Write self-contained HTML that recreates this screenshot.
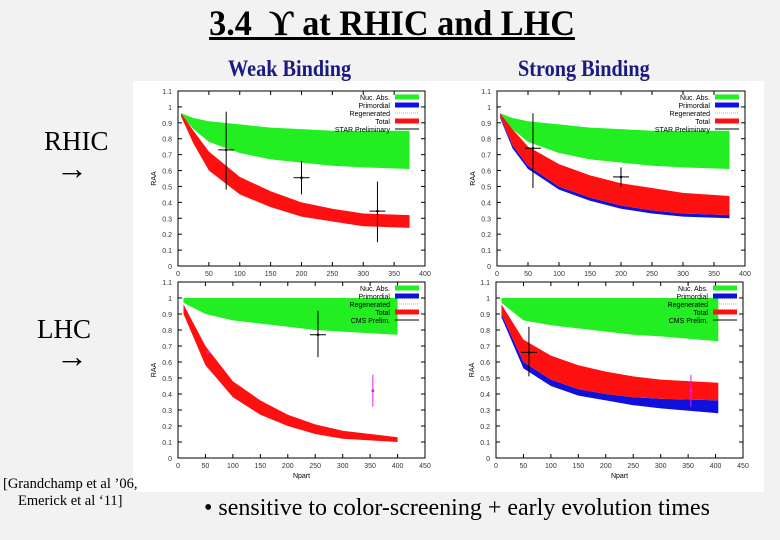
<!DOCTYPE html>
<html><head><meta charset="utf-8"><style>
body{margin:0;width:780px;height:540px;background:#f2f2f2;overflow:hidden;position:relative;font-family:"Liberation Serif",serif}
.t{position:absolute;white-space:nowrap;z-index:2}
</style></head><body>
<div class="t" style="left:152px;top:2px;width:480px;font-size:36px;font-weight:bold;text-decoration:underline;text-align:center;transform:scaleX(0.95);transform-origin:center">3.4 &nbsp;ϒ at RHIC and LHC</div>
<div class="t" style="left:228px;top:56px;font-size:23px;font-weight:bold;color:#1a1a80;transform:scaleX(0.88);transform-origin:left">Weak Binding</div>
<div class="t" style="left:518px;top:56px;font-size:23px;font-weight:bold;color:#1a1a80;transform:scaleX(0.88);transform-origin:left">Strong Binding</div>
<div class="t" style="left:44px;top:126px;font-size:27px">RHIC</div>
<div class="t" style="left:56px;top:150px;font-size:32px">→</div>
<div class="t" style="left:37px;top:314px;font-size:27px">LHC</div>
<div class="t" style="left:56px;top:338px;font-size:32px">→</div>
<div class="t" style="left:3px;top:476px;font-size:14.5px;line-height:17px;text-align:center">[Grandchamp et al ’06,<br>Emerick et al ‘11]</div>
<div class="t" style="left:204px;top:495px;font-size:24px">• sensitive to color-screening + early evolution times</div>
<svg id="svg" width="780" height="540" style="position:absolute;left:0;top:0;z-index:1">
<rect x="133" y="81" width="631" height="411" fill="#fff"/>
</svg>
<script>
const NS="http://www.w3.org/2000/svg";
const svg=document.getElementById('svg');
// Panel 1: RHIC weak
const p1N=[5,25,50,100,150,200,250,300,375];
const p1GreenHi=[0.96,0.93,0.91,0.89,0.87,0.86,0.85,0.85,0.85];
const p1GreenLo=[0.95,0.86,0.78,0.71,0.67,0.65,0.63,0.62,0.61];
const p1RedHi=[0.96,0.85,0.72,0.56,0.47,0.40,0.36,0.33,0.32];
const p1RedLo=[0.94,0.77,0.60,0.45,0.37,0.31,0.28,0.25,0.24];
const p1PtX=[78,200,323];const p1PtY=[0.73,0.555,0.345];const p1PtHi=[0.97,0.66,0.53];const p1PtLo=[0.48,0.45,0.15];
// Panel 2: RHIC strong
const p2N=[5,25,50,100,150,200,250,300,375];
const p2GreenHi=[0.96,0.93,0.91,0.89,0.87,0.86,0.85,0.85,0.85];
const p2GreenLo=[0.95,0.86,0.78,0.71,0.67,0.65,0.63,0.62,0.61];
const p2RedHi=[0.96,0.86,0.75,0.64,0.57,0.52,0.49,0.46,0.44];
const p2RedLo=[0.94,0.76,0.63,0.50,0.43,0.38,0.35,0.33,0.32];
const p2BlueLo=[0.93,0.74,0.61,0.48,0.41,0.36,0.33,0.31,0.30];
const p2PtX=[58,200];const p2PtY=[0.74,0.56];const p2PtHi=[0.96,0.62];const p2PtLo=[0.49,0.50];
// Panel 3: LHC weak
const p3N=[10,50,100,150,200,250,300,350,400];
const p3GreenHi=[1,1,1,1,1,1,1,1,1];
const p3GreenLo=[0.97,0.90,0.86,0.84,0.82,0.80,0.79,0.78,0.77];
const p3RedHi=[0.96,0.70,0.48,0.36,0.27,0.21,0.17,0.15,0.13];
const p3RedLo=[0.90,0.58,0.38,0.27,0.20,0.15,0.12,0.11,0.10];
const p3PtX=[255];const p3PtY=[0.77];const p3PtHi=[0.92];const p3PtLo=[0.63];
const p3MagX=[55,355];const p3MagY=[0.66,0.42];const p3MagHi=[0.66,0.52];const p3MagLo=[0.66,0.32];
// Panel 4: LHC strong
const p4N=[10,50,100,150,200,250,300,405];
const p4GreenHi=[1,1,1,1,1,1,1,1];
const p4GreenLo=[0.97,0.86,0.83,0.81,0.79,0.77,0.76,0.73];
const p4RedHi=[0.96,0.74,0.64,0.58,0.54,0.51,0.49,0.47];
const p4RedLo=[0.90,0.60,0.49,0.43,0.40,0.38,0.37,0.36];
const p4BlueLo=[0.88,0.56,0.45,0.39,0.36,0.33,0.31,0.28];
const p4PtX=[60];const p4PtY=[0.66];const p4PtHi=[0.82];const p4PtLo=[0.51];
const p4MagX=[355];const p4MagY=[0.42];const p4MagHi=[0.52];const p4MagLo=[0.32];
const yTicks=[0,0.1,0.2,0.3,0.4,0.5,0.6,0.7,0.8,0.9,1,1.1];
const yTickLabels=["0","0.1","0.2","0.3","0.4","0.5","0.6","0.7","0.8","0.9","1","1.1"];
const xTicks400=[0,50,100,150,200,250,300,350,400];
const xTicks450=[0,50,100,150,200,250,300,350,400,450];
const legendA=["Nuc. Abs.","Primordial","Regenerated","Total","STAR Preliminary"];
const legendB=["Nuc. Abs.","Primordial","Regenerated","Total","CMS Prelim."];

function el(t,a,name,par){const e=document.createElementNS(NS,t);for(const k in a)e.setAttribute(k,a[k]);


(par||svg).appendChild(e);return e;}
function panel(id,L,T,R,B,xmax,xt,N,gHi,gLo,rHi,rLo,bLo,px,py,pHi,pLo,mx,my,mHi,mLo,leg,xlab){
  const g=el('g',{},id);
  const X=v=>L+(R-L)*v/xmax, Y=v=>B-(B-T)*v/1.1;
  function band(hi,lo,col,name){let d='M'+N.map((n,i)=>X(n)+','+Y(hi[i])).join('L')+'L'+N.slice().reverse().map((n,i)=>X(n)+','+Y(lo[N.length-1-i])).join('L')+'Z';el('path',{d,fill:col},name,g);}
  band(gHi,gLo,'#22ee22','nuc-abs-band');
  if(bLo)band(rLo,bLo,'#1010dd','primordial-band');
  band(rHi,rLo,'#ff1010','total-band');
  el('rect',{x:L,y:T,width:R-L,height:B-T,fill:'none',stroke:'#000','stroke-width':1},'plot-frame',g);
  yTicks.forEach((v,i)=>{el('line',{x1:L,x2:L+4,y1:Y(v),y2:Y(v),stroke:'#000'},'y-tick',g);el('line',{x1:R,x2:R-4,y1:Y(v),y2:Y(v),stroke:'#000'},'y-tick',g);
    const t=el('text',{x:L-6,y:Y(v)+3,'font-size':7,'text-anchor':'end','font-family':'Liberation Sans, sans-serif',fill:'#333'},'y-tick-label',g);t.textContent=yTickLabels[i];});
  xt.forEach(v=>{el('line',{x1:X(v),x2:X(v),y1:B,y2:B-4,stroke:'#000'},'x-tick',g);el('line',{x1:X(v),x2:X(v),y1:T,y2:T+4,stroke:'#000'},'x-tick',g);
    const t=el('text',{x:X(v),y:B+10,'font-size':7,'text-anchor':'middle','font-family':'Liberation Sans, sans-serif',fill:'#333'},'x-tick-label',g);t.textContent=String(v);});
  const ya=el('text',{x:L-22,y:(T+B)/2,'font-size':7,'font-family':'Liberation Sans, sans-serif',transform:`rotate(-90 ${L-22} ${(T+B)/2})`,'text-anchor':'middle'},'y-axis-title',g);ya.textContent='RAA';
  if(xlab){const xa=el('text',{x:(L+R)/2,y:B+20,'font-size':7,'font-family':'Liberation Sans, sans-serif','text-anchor':'middle'},'x-axis-title',g);xa.textContent='Npart';}
  px.forEach((x,i)=>{el('line',{x1:X(x),x2:X(x),y1:Y(pHi[i]),y2:Y(pLo[i]),stroke:'#000'},'data-errorbar',g);
    el('line',{x1:X(x)-8,x2:X(x)+8,y1:Y(py[i]),y2:Y(py[i]),stroke:'#000'},'data-xerr',g);
    el('circle',{cx:X(x),cy:Y(py[i]),r:1.3,fill:'#000'},'data-point',g);});
  (mx||[]).forEach((x,i)=>{el('line',{x1:X(x),x2:X(x),y1:Y(mHi[i]),y2:Y(mLo[i]),stroke:'#e020e0'},'cms-errorbar',g);
    el('circle',{cx:X(x),cy:Y(my[i]),r:1.5,fill:'#e020e0'},'cms-point',g);});
  const cols=['#22ee22','#1010dd',null,'#ff1010',null];
  leg.forEach((s,i)=>{const yy=T+6+i*8;const t=el('text',{x:R-35,y:yy+3,'font-size':7,'text-anchor':'end','font-family':'Liberation Sans, sans-serif'},'legend-label',g);t.textContent=s;
    if(cols[i])el('rect',{x:R-30,y:yy-2.5,width:24,height:5,fill:cols[i]},'legend-swatch',g);
    else if(i==2)el('line',{x1:R-30,x2:R-6,y1:yy,y2:yy,stroke:'#e080e0','stroke-dasharray':'1,1'},'legend-swatch',g);
    else el('line',{x1:R-30,x2:R-6,y1:yy,y2:yy,stroke:'#000'},'legend-swatch',g);});
}
panel('rhic-weak-chart',178,91,425,266,400,xTicks400,p1N,p1GreenHi,p1GreenLo,p1RedHi,p1RedLo,null,p1PtX,p1PtY,p1PtHi,p1PtLo,null,null,null,null,legendA,false);
panel('rhic-strong-chart',497,91,745,266,400,xTicks400,p2N,p2GreenHi,p2GreenLo,p2RedHi,p2RedLo,p2BlueLo,p2PtX,p2PtY,p2PtHi,p2PtLo,null,null,null,null,legendA,false);
panel('lhc-weak-chart',178,282,425,458,450,xTicks450,p3N,p3GreenHi,p3GreenLo,p3RedHi,p3RedLo,null,p3PtX,p3PtY,p3PtHi,p3PtLo,p3MagX,p3MagY,p3MagHi,p3MagLo,legendB,true);
panel('lhc-strong-chart',496,282,743,458,450,xTicks450,p4N,p4GreenHi,p4GreenLo,p4RedHi,p4RedLo,p4BlueLo,p4PtX,p4PtY,p4PtHi,p4PtLo,p4MagX,p4MagY,p4MagHi,p4MagLo,legendB,true);
</script>
</body></html>
